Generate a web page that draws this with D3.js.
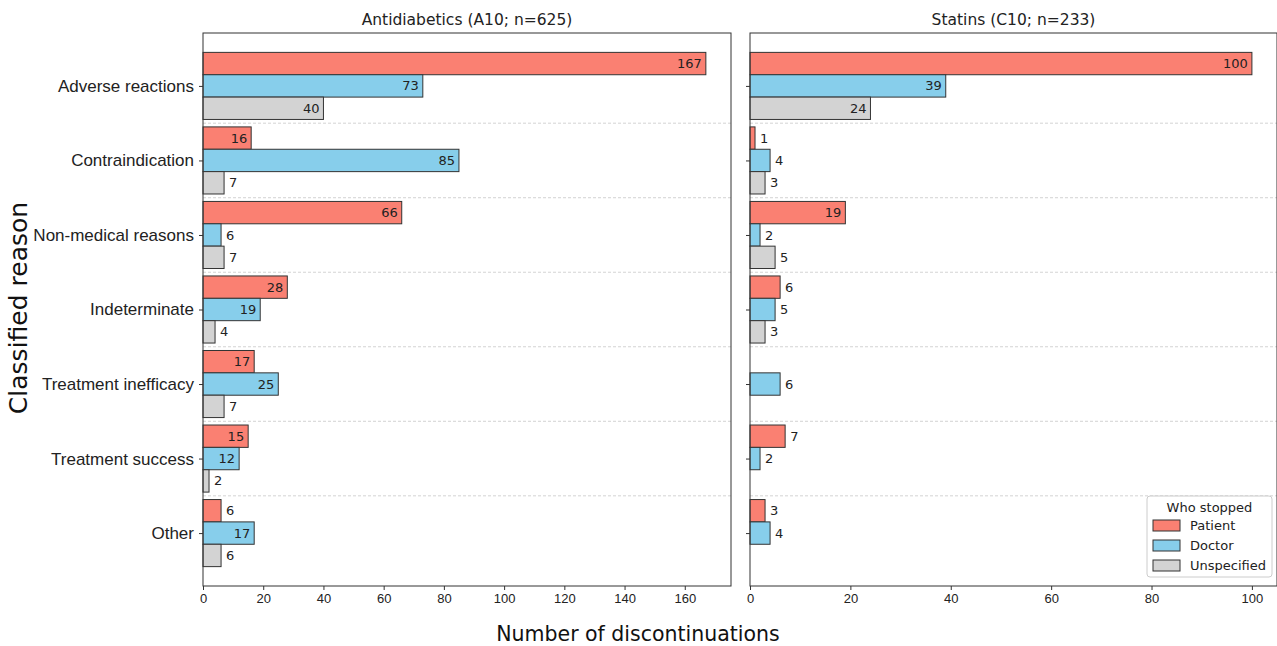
<!DOCTYPE html>
<html>
<head>
<meta charset="utf-8">
<script src="https://cdn.jsdelivr.net/npm/d3@7"></script>
<style>
  body { margin: 0; background: #fff; }
  svg { font-family: "DejaVu Sans", sans-serif; }
</style>
</head>
<body>
<svg id="chart" width="1277" height="646"></svg>
<script>
// reasons, top to bottom
const reasons = ["Adverse reactions", "Contraindication", "Non-medical reasons", "Indeterminate",
  "Treatment inefficacy", "Treatment success", "Other"];
const who = ["Patient", "Doctor", "Unspecified"];
const colors = ["#fa8072", "#87ceeb", "#d3d3d3"];

// Antidiabetics (A10)
const a10Patient = [167, 16, 66, 28, 17, 15, 6];
const a10Doctor = [73, 85, 6, 19, 25, 12, 17];
const a10Unspecified = [40, 7, 7, 4, 7, 2, 6];
// Statins (C10)
const c10Patient = [100, 1, 19, 6, 0, 7, 3];
const c10Doctor = [39, 4, 2, 5, 6, 2, 4];
const c10Unspecified = [24, 3, 5, 3, 0, 0, 0];

const a10Ticks = [0, 20, 40, 60, 80, 100, 120, 140, 160];
const c10Ticks = [0, 20, 40, 60, 80, 100];

const svg = d3.select("#chart");
const plotTop = 33, plotBottom = 586;

const y = d3.scaleLinear().domain([-0.71, reasons.length - 1 + 0.71]).range([plotTop, plotBottom]);
const barH = y(0.3) - y(0);

function drawPanel(x0, x1, series, ticks, title, showLabels) {
  const maxV = d3.max(series.flat());
  const x = d3.scaleLinear().domain([0, maxV * 1.05]).range([x0, x1]);
  const g = svg.append("g");

  // separators
  g.selectAll("line.sep").data(d3.range(reasons.length - 1)).join("line")
    .attr("x1", x0).attr("x2", x1)
    .attr("y1", d => y(d + 0.5)).attr("y2", d => y(d + 0.5))
    .attr("stroke", "#c8c8c8").attr("stroke-width", 0.8).attr("stroke-dasharray", "3,2");

  series.forEach((vals, s) => {
    const rows = vals.map((v, i) => ({ v, i })).filter(d => d.v > 0);
    g.selectAll(null).data(rows).join("rect")
      .attr("x", x(0))
      .attr("y", d => y(d.i + (s - 1) * 0.3) - barH / 2)
      .attr("width", d => x(d.v) - x(0))
      .attr("height", barH)
      .attr("fill", colors[s])
      .attr("stroke", "#333").attr("stroke-width", 1);
    g.selectAll(null).data(rows).join("text")
      .attr("x", d => d.v >= 10 ? x(d.v) - 4 : x(d.v) + 5)
      .attr("y", d => y(d.i + (s - 1) * 0.3))
      .attr("dy", "0.35em")
      .attr("text-anchor", d => d.v >= 10 ? "end" : "start")
      .attr("font-size", 13).attr("fill", "#222")
      .text(d => d.v);
  });

  // frame
  g.append("rect").attr("x", x0).attr("y", plotTop).attr("width", x1 - x0).attr("height", plotBottom - plotTop)
    .attr("fill", "none").attr("stroke", "#333").attr("stroke-width", 1);

  const xAxis = g.append("g").attr("transform", `translate(0,${plotBottom})`)
    .call(d3.axisBottom(x).tickValues(ticks).tickSize(4).tickPadding(4));
  xAxis.select(".domain").remove();
  xAxis.selectAll("text").attr("font-size", 13).attr("fill", "#222");
  xAxis.selectAll("line").attr("stroke", "#333");

  const yAxis = g.append("g").attr("transform", `translate(${x0},0)`)
    .call(d3.axisLeft(y).tickValues(d3.range(reasons.length))
      .tickFormat(i => showLabels ? reasons[i] : "").tickSize(4).tickPadding(5));
  yAxis.select(".domain").remove();
  yAxis.selectAll("text").attr("font-size", 17).attr("fill", "#222");
  yAxis.selectAll("line").attr("stroke", "#333");

  g.append("text").attr("x", (x0 + x1) / 2).attr("y", 25)
    .attr("text-anchor", "middle").attr("font-size", 15.5).attr("fill", "#222").text(title);
  return x;
}

drawPanel(203, 731, [a10Patient, a10Doctor, a10Unspecified], a10Ticks, "Antidiabetics (A10; n=625)", true);
drawPanel(750, 1277, [c10Patient, c10Doctor, c10Unspecified], c10Ticks, "Statins (C10; n=233)", false);

// axis titles
svg.append("text").attr("transform", "translate(27,308) rotate(-90)")
  .attr("text-anchor", "middle").attr("font-size", 25).attr("fill", "#111").text("Classified reason");
svg.append("text").attr("x", 638).attr("y", 641)
  .attr("text-anchor", "middle").attr("font-size", 20.5).attr("fill", "#111").text("Number of discontinuations");

// legend
const lg = svg.append("g").attr("transform", "translate(1147,496)");
lg.append("rect").attr("width", 125).attr("height", 81).attr("rx", 3)
  .attr("fill", "#fff").attr("fill-opacity", 0.85).attr("stroke", "#ccc");
lg.append("text").attr("x", 62.5).attr("y", 16).attr("text-anchor", "middle")
  .attr("font-size", 13).attr("fill", "#222").text("Who stopped");
const items = lg.selectAll("g.item").data(who).join("g")
  .attr("transform", (d, i) => `translate(6,${24 + i * 20})`);
items.append("rect").attr("width", 27).attr("height", 11)
  .attr("fill", (d, i) => colors[i]).attr("stroke", "#333");
items.append("text").attr("x", 37).attr("y", 5.5).attr("dy", "0.35em")
  .attr("font-size", 13).attr("fill", "#222").text(d => d);
</script>
</body>
</html>
